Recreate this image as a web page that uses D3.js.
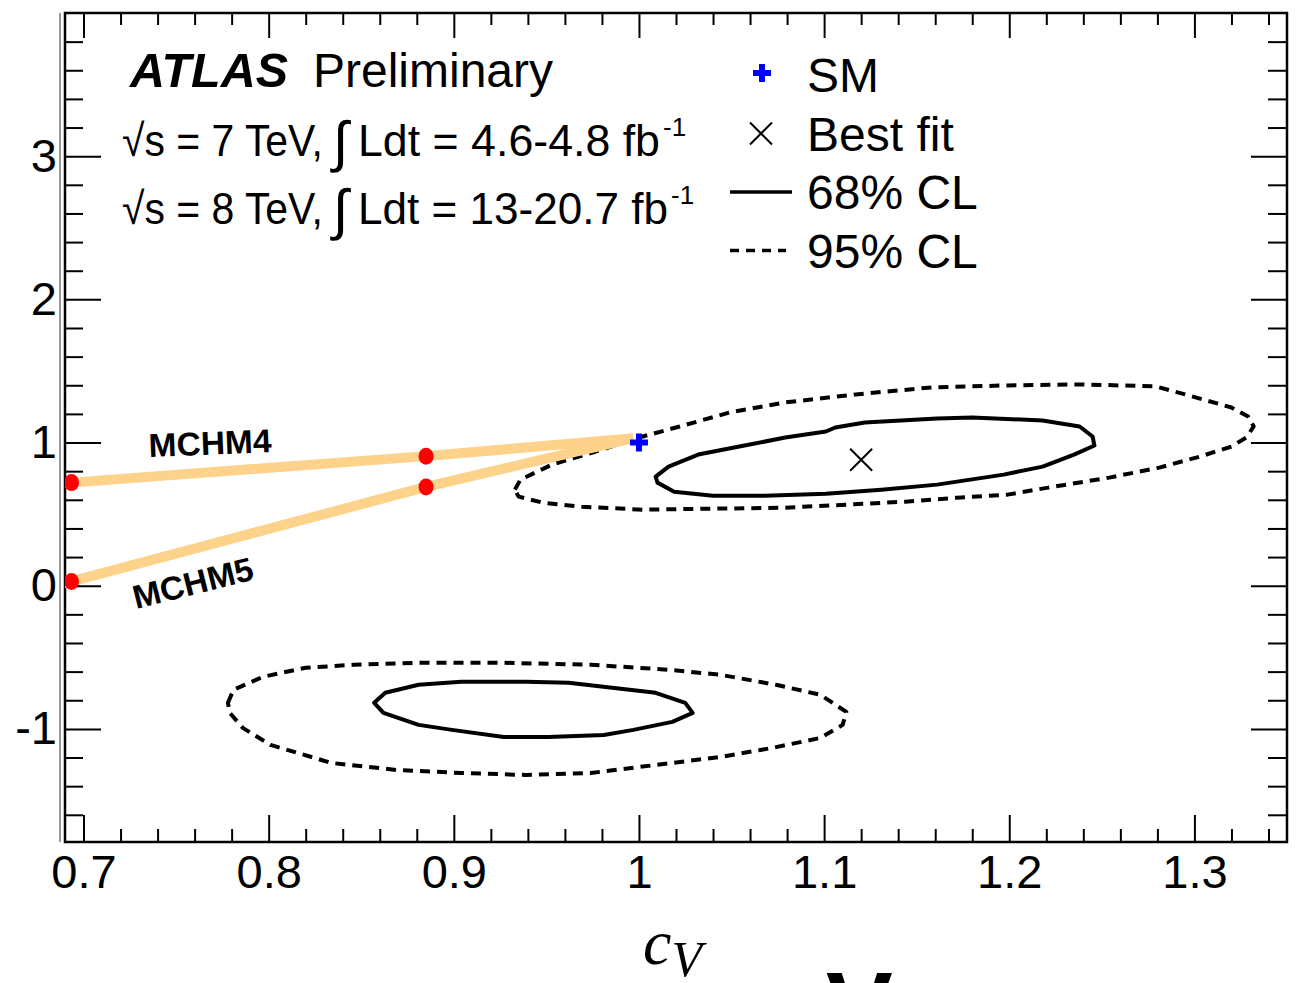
<!DOCTYPE html>
<html>
<head>
<meta charset="utf-8">
<script src="https://cdn.jsdelivr.net/npm/d3@7"></script>
<style>
body{margin:0;background:#fff}
text{font-family:"Liberation Sans",Arial,Helvetica,sans-serif;fill:#000}
</style>
</head>
<body>
<svg id="graph"></svg>
<script>
// tick labels
var xTicks = [0.7,0.8,0.9,1,1.1,1.2,1.3]
var yTicks = [-1,0,1,2,3]

// points
var smPoint = [1,1]
var bestFit = [1.12,0.88]

// composite higgs model lines (cV, cF)
var mchm4 = [[0.6935,0.72],[0.885,0.905],[0.997,1.03]]
var mchm5 = [[0.6935,0.03],[0.885,0.69],[0.997,1.03]]

// contours (cV, cF)
var upper95 = [[0.933,0.671],[0.936,0.741],[0.953,0.846],[0.975,0.930],[1.000,1.035],[1.022,1.112],[1.049,1.210],[1.079,1.280],[1.117,1.336],[1.158,1.385],[1.199,1.399],[1.240,1.406],[1.279,1.392],[1.295,1.336],[1.320,1.245],[1.329,1.182],[1.332,1.112],[1.328,1.035],[1.320,0.972],[1.303,0.902],[1.281,0.825],[1.254,0.755],[1.221,0.685],[1.199,0.636],[1.172,0.615],[1.144,0.587],[1.112,0.566],[1.079,0.545],[1.040,0.538],[1.002,0.531],[0.969,0.552],[0.948,0.580],[0.935,0.622]]
var upper68 = [[1.009,0.762],[1.016,0.832],[1.032,0.916],[1.057,0.979],[1.079,1.035],[1.101,1.077],[1.106,1.105],[1.122,1.140],[1.161,1.168],[1.180,1.175],[1.218,1.154],[1.238,1.112],[1.245,1.042],[1.246,0.979],[1.235,0.916],[1.218,0.832],[1.197,0.776],[1.161,0.706],[1.131,0.671],[1.101,0.643],[1.068,0.629],[1.040,0.629],[1.019,0.657],[1.010,0.720]]
var lower95 = [[0.778,-0.818],[0.781,-0.727],[0.797,-0.636],[0.820,-0.573],[0.846,-0.552],[0.881,-0.538],[0.927,-0.538],[0.974,-0.552],[1.016,-0.587],[1.044,-0.622],[1.074,-0.692],[1.098,-0.762],[1.112,-0.881],[1.110,-0.972],[1.098,-1.063],[1.072,-1.133],[1.044,-1.196],[1.009,-1.252],[0.974,-1.308],[0.939,-1.322],[0.904,-1.308],[0.869,-1.287],[0.834,-1.238],[0.801,-1.112],[0.786,-0.993],[0.779,-0.888]]
var lower68 = [[0.857,-0.818],[0.863,-0.748],[0.881,-0.692],[0.904,-0.671],[0.939,-0.671],[0.962,-0.678],[1.009,-0.748],[1.025,-0.818],[1.029,-0.888],[1.018,-0.951],[0.997,-1.007],[0.981,-1.042],[0.951,-1.056],[0.927,-1.056],[0.899,-1.007],[0.881,-0.972],[0.862,-0.888]]

var legendNames = ["SM","Best fit","68% CL","95% CL"]

var screen = {width:1297,height:983}
var margins = {left:65,right:10,top:13,bottom:141}
var graph = {
    width:screen.width-margins.left-margins.right,
    height:screen.height-margins.top-margins.bottom
}

var svg = d3.select("#graph")
    .attr("width",screen.width)
    .attr("height",screen.height)

var xScale = d3.scaleLinear()
    .domain([0.690,1.350])
    .range([0,graph.width])
var yScale = d3.scaleLinear()
    .domain([-1.79,4.0])
    .range([graph.height,0])

var xMinor = d3.range(0.70,1.35,0.02).filter(function(v){return Math.abs(v*10-Math.round(v*10))>0.01})
var yMinor = d3.range(-1.6,4.01,0.2).filter(function(v){return Math.abs(v-Math.round(v))>0.01})

var target = svg.append("g")
    .attr("transform","translate("+margins.left+","+margins.top+")")

var drawAxes = function()
{
    var fmt = function(d){return String(d)}
    var axes = target.append("g").attr("class","axes")

    var style = function(g)
    {
        g.select(".domain").remove()
        g.selectAll("line").attr("stroke","#000").attr("stroke-width",2)
        g.selectAll("text").attr("font-size",47).attr("font-family","Liberation Sans, Arial, sans-serif")
    }

    axes.append("g")
        .attr("transform","translate(0,"+graph.height+")")
        .call(d3.axisBottom(xScale).tickValues(xTicks).tickFormat(fmt).tickSize(-27).tickSizeOuter(0).tickPadding(13))
        .call(style)
    axes.append("g")
        .attr("transform","translate(0,"+graph.height+")")
        .call(d3.axisBottom(xScale).tickValues(xMinor).tickFormat("").tickSize(-13).tickSizeOuter(0))
        .call(style)
    axes.append("g")
        .call(d3.axisTop(xScale).tickValues(xTicks).tickFormat("").tickSize(-25).tickSizeOuter(0))
        .call(style)
    axes.append("g")
        .call(d3.axisTop(xScale).tickValues(xMinor).tickFormat("").tickSize(-12).tickSizeOuter(0))
        .call(style)

    axes.append("g")
        .call(d3.axisLeft(yScale).tickValues(yTicks).tickFormat(fmt).tickSize(-36).tickSizeOuter(0).tickPadding(8))
        .call(style)
    axes.append("g")
        .call(d3.axisLeft(yScale).tickValues(yMinor).tickFormat("").tickSize(-18).tickSizeOuter(0))
        .call(style)
    axes.append("g")
        .attr("transform","translate("+graph.width+",0)")
        .call(d3.axisRight(yScale).tickValues(yTicks).tickFormat("").tickSize(-36).tickSizeOuter(0))
        .call(style)
    axes.append("g")
        .attr("transform","translate("+graph.width+",0)")
        .call(d3.axisRight(yScale).tickValues(yMinor).tickFormat("").tickSize(-19).tickSizeOuter(0))
        .call(style)

    // frame
    target.append("rect")
        .attr("width",graph.width)
        .attr("height",graph.height)
        .attr("fill","none")
        .attr("stroke","#000")
        .attr("stroke-width",2.5)
    target.append("line")
        .attr("x1",-5).attr("x2",-5)
        .attr("y1",0).attr("y2",graph.height)
        .attr("stroke","#9a9a9a")
        .attr("stroke-width",2)
}

var drawContours = function()
{
    var line = d3.line()
        .x(function(d){return xScale(d[0])})
        .y(function(d){return yScale(d[1])})
        .curve(d3.curveLinearClosed)

    var contours = [
        {pts:upper95,dash:"10,7"},
        {pts:upper68,dash:null},
        {pts:lower95,dash:"10,7"},
        {pts:lower68,dash:null}
    ]
    target.selectAll(".contour")
        .data(contours)
        .enter()
        .append("path")
        .attr("class","contour")
        .attr("d",function(c){return line(c.pts)})
        .attr("fill","none")
        .attr("stroke","#000")
        .attr("stroke-width",4)
        .attr("stroke-linejoin","round")
        .attr("stroke-dasharray",function(c){return c.dash})
}

var drawModels = function()
{
    var line = d3.line()
        .x(function(d){return xScale(d[0])})
        .y(function(d){return yScale(d[1])})

    var clip = target.append("clipPath").attr("id","plotClip")
    clip.append("rect").attr("width",graph.width).attr("height",graph.height)

    var g = target.append("g").attr("clip-path","url(#plotClip)")

    g.selectAll(".model")
        .data([mchm4,mchm5])
        .enter()
        .append("path")
        .attr("class","model")
        .attr("d",function(m){return line([[m[0][0]-0.01,m[0][1]-(m[1][1]-m[0][1])*0.01/(m[1][0]-m[0][0])]].concat(m))})
        .attr("fill","none")
        .attr("stroke","#fdd38c")
        .attr("stroke-width",10)
        .attr("stroke-linejoin","round")

    var dots = mchm4.slice(0,2).concat(mchm5.slice(0,2))
    g.selectAll(".dot")
        .data(dots)
        .enter()
        .append("ellipse")
        .attr("class","dot")
        .attr("cx",function(d){return xScale(d[0])})
        .attr("cy",function(d){return yScale(d[1])})
        .attr("rx",7.5)
        .attr("ry",8.5)
        .attr("fill","#ff0000")

    // labels
    target.append("text")
        .text("MCHM4")
        .attr("font-weight","bold")
        .attr("font-size",33)
        .attr("textLength",123)
        .attr("lengthAdjust","spacingAndGlyphs")
        .attr("transform","translate("+(149-margins.left)+","+(457-margins.top)+") rotate(-2.3)")
    target.append("text")
        .text("MCHM5")
        .attr("font-weight","bold")
        .attr("font-size",33)
        .attr("textLength",123)
        .attr("lengthAdjust","spacingAndGlyphs")
        .attr("transform","translate("+(136-margins.left)+","+(609-margins.top)+") rotate(-14)")
}

var plusPath = function(s,w)
{
    return "M"+(-w)+","+(-s)+"H"+w+"V"+(-w)+"H"+s+"V"+w+"H"+w+"V"+s+"H"+(-w)+"V"+w+"H"+(-s)+"V"+(-w)+"H"+(-w)+"Z"
}

var drawPoints = function()
{
    target.append("path")
        .attr("d",plusPath(9,3))
        .attr("fill","#0000ff")
        .attr("transform","translate("+xScale(smPoint[0])+","+yScale(smPoint[1])+")")

    target.append("path")
        .attr("d","M-11,-11L11,11M-11,11L11,-11")
        .attr("stroke","#000")
        .attr("stroke-width",2)
        .attr("transform","translate("+xScale(bestFit[0])+","+yScale(bestFit[1])+")")
}

var fitText = function(parent,str,x,y,size,len)
{
    return parent.append("text")
        .text(str)
        .attr("x",x)
        .attr("y",y)
        .attr("font-size",size)
        .attr("textLength",len)
        .attr("lengthAdjust","spacingAndGlyphs")
}

var drawLabels = function()
{
    var labels = svg.append("g").classed("labels",true)

    fitText(labels,"ATLAS",130,87,48,158)
        .attr("font-weight","bold")
        .attr("font-style","italic")
    fitText(labels,"Preliminary",313,87,48,240)

    var lumi = [
        {y:156,a:"√s = 7 TeV,",b:"Ldt = 4.6-4.8 fb",bLen:302},
        {y:224,a:"√s = 8 TeV,",b:"Ldt = 13-20.7 fb",bLen:310}
    ]
    lumi.forEach(function(l)
    {
        fitText(labels,l.a,122,l.y,45,201)
        labels.append("text")
            .text("∫")
            .attr("x",333)
            .attr("y",l.y+5)
            .attr("font-size",56)
            .attr("font-family","DejaVu Sans")
        fitText(labels,l.b,358,l.y,45,l.bLen)
        labels.append("text")
            .text("-1")
            .attr("x",358+l.bLen+3)
            .attr("y",l.y-20)
            .attr("font-size",26)
    })

    // x-axis label
    var xl = labels.append("text")
        .attr("x",643)
        .attr("y",964)
        .style("font-family","Liberation Serif, serif")
        .attr("font-style","italic")
    xl.append("tspan").text("c").attr("font-size",64)
    xl.append("tspan").text("V").attr("font-size",50).attr("dy",12)

    labels.append("text")
        .text("V")
        .attr("x",826)
        .attr("y",1042)
        .attr("font-size",100)
        .attr("font-weight","bold")
}

var drawLegend = function()
{
    var legend = svg.append("g")
        .classed("legend",true)
        .attr("transform","translate(730,0)")

    var entries = legend.selectAll("g")
        .data(legendNames)
        .enter()
        .append("g")
        .attr("transform",function(d,i){return "translate(0,"+(75+i*58.5)+")"})

    entries.append("text")
        .text(function(d){return d})
        .attr("x",77)
        .attr("y",17)
        .attr("font-size",48)

    entries.each(function(d,i)
    {
        var e = d3.select(this)
        if(i==0)
        {
            e.append("path").attr("d",plusPath(9,3)).attr("fill","#0000ff").attr("transform","translate(32,-2)")
        }
        else if(i==1)
        {
            e.append("path").attr("d","M-11,-11L11,11M-11,11L11,-11").attr("stroke","#000").attr("stroke-width",2).attr("transform","translate(31,0)")
        }
        else
        {
            e.append("line")
                .attr("x1",0).attr("x2",i==2?62:56)
                .attr("y1",0).attr("y2",0)
                .attr("stroke","#000")
                .attr("stroke-width",3.5)
                .attr("stroke-dasharray",i==3?"9,7":null)
        }
    })
}

drawAxes()
drawContours()
drawModels()
drawPoints()
drawLabels()
drawLegend()
</script>
</body>
</html>
